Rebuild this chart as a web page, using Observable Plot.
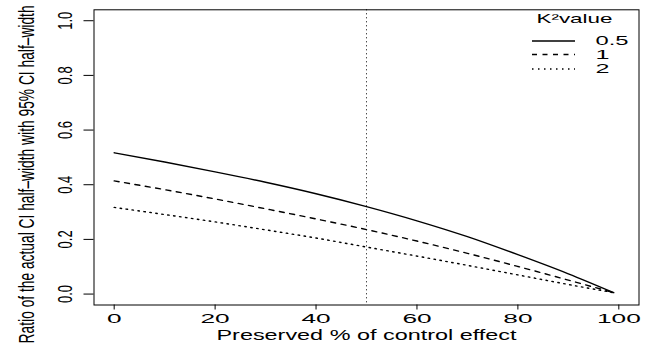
<!DOCTYPE html>
<html><head><meta charset="utf-8">
<script src="https://cdn.jsdelivr.net/npm/d3@7"></script>
<script src="https://cdn.jsdelivr.net/npm/@observablehq/plot@0.6"></script>
<style>body{margin:0;background:#fff} svg{display:block}</style>
</head><body><div id="chart"></div>
<script>
// ---- data ----
const preserved = [0, 10, 20, 30, 40, 50, 60, 70, 80, 90, 99];
const ratioK05 = [0.517, 0.483, 0.447, 0.409, 0.367, 0.320, 0.268, 0.210, 0.144, 0.074, 0.005];
const ratioK1  = [0.414, 0.382, 0.348, 0.312, 0.275, 0.236, 0.194, 0.149, 0.101, 0.051, 0.005];
const ratioK2  = [0.317, 0.291, 0.264, 0.235, 0.205, 0.172, 0.139, 0.105, 0.070, 0.035, 0.005];
const k2Labels = ["0.5", "1", "2"];
const legendTitle = "K\u00B2value";
const refLine = [50];
const xTickVals = [0, 20, 40, 60, 80, 100];
const xTickLabels = ["0", "20", "40", "60", "80", "100"];
const yTickVals = [0, 0.2, 0.4, 0.6, 0.8, 1.0];
const yTickLabels = ["0.0", "0.2", "0.4", "0.6", "0.8", "1.0"];
const xLabel = "Preserved % of control effect";
const yLabel = "Ratio of the actual CI half\u2013width with 95% CI half\u2013width";

// ---- layout ----
const W = 648, H = 350;
const mL = 93.5, mR = 9.5, mT = 9.3, mB = 45.5;
const xDom = [-4, 104], yDom = [-0.04, 1.04];
const xInv = px => xDom[0] + (px - mL) / (W - mL - mR) * (xDom[1] - xDom[0]);
const yInv = py => yDom[0] + (H - mB - py) / (H - mB - mT) * (yDom[1] - yDom[0]);

const series = [
  {vals: ratioK05, dash: null},
  {vals: ratioK1, dash: "5,5.5"},
  {vals: ratioK2, dash: "1.5,4.5"}
];
const rowsPx = [40.5, 54, 68.5];
const legendRows = k2Labels.map((lab, i) => ({
  lab, dash: series[i].dash,
  y: yInv(rowsPx[i]), x1: xInv(532), x2: xInv(575), xt: xInv(595)
}));

const font = "'Liberation Sans', Arial, Helvetica, sans-serif";

const marks = [
  Plot.frame({stroke: "black", strokeWidth: 1}),
  Plot.axisX(xTickVals, {anchor: "bottom", tickSize: 5, tickPadding: 4.5, fontSize: 12.5,
    tickFormat: (d) => xTickLabels[xTickVals.indexOf(d)], label: null}),
  Plot.axisY(yTickVals, {anchor: "left", tickSize: 10, tickFormat: () => "", label: null}),
  Plot.text(yTickVals, {y: d => d, text: (d, i) => yTickLabels[i], frameAnchor: "left",
    dx: -28.5, rotate: -90, fontSize: 20, textAnchor: "middle"}),
  Plot.text([yLabel], {text: d => d, frameAnchor: "left", dx: -66.5, dy: 17, rotate: -90,
    fontSize: 14, textAnchor: "middle"}),
  Plot.text([xLabel], {text: d => d, frameAnchor: "bottom", dy: 35, fontSize: 15,
    textAnchor: "middle"}),
  Plot.ruleX(refLine, {stroke: "black", strokeWidth: 1, strokeDasharray: "1,3"})
];
series.forEach(s => {
  marks.push(Plot.line(preserved.map((p, i) => ({p, r: s.vals[i]})), {
    x: "p", y: "r", stroke: "black", strokeWidth: 1.4, curve: "monotone-x",
    strokeDasharray: s.dash || undefined
  }));
});
legendRows.forEach((r) => {
  marks.push(Plot.ruleY([r], {y: "y", x1: "x1", x2: "x2", stroke: "black", strokeWidth: 1.4,
    strokeDasharray: r.dash || undefined}));
});
marks.push(Plot.text(legendRows, {x: "xt", y: "y", text: "lab", textAnchor: "start",
  fontSize: 13}));
marks.push(Plot.text([legendTitle], {text: d => d, x: () => xInv(536), y: () => yInv(18.7),
  textAnchor: "start", fontSize: 13}));

const svg = Plot.plot({
  width: W, height: H,
  marginLeft: mL, marginRight: mR, marginTop: mT, marginBottom: mB,
  x: {domain: xDom}, y: {domain: yDom},
  style: {fontFamily: font, background: "white", color: "black", overflow: "visible"},
  marks
});

// stretch texts to the widths seen in the reference
const digitLen = (s, d) => [...s].reduce((a, c) => a + (c === "." ? 5 : d), 0);
const lengths = new Map();
xTickLabels.forEach(s => lengths.set(s, digitLen(s, 14.6)));
yTickLabels.forEach(s => lengths.set(s, 18));
k2Labels.forEach(s => lengths.set(s, digitLen(s, 14)));
lengths.set(yLabel, 338);
lengths.set(xLabel, 300);
lengths.set(legendTitle, 76);
svg.querySelectorAll("text").forEach(t => {
  const s = t.textContent;
  if (lengths.has(s)) {
    t.setAttribute("textLength", lengths.get(s));
    t.setAttribute("lengthAdjust", "spacingAndGlyphs");
  }
  if (s === yLabel) {
    // the reference is stretched horizontally: thicken the rotated glyphs
    const tr = t.getAttribute("transform") || "";
    const m = /translate\(\s*([-\d.e]+)[ ,]+([-\d.e]+)\s*\)/.exec(tr);
    if (m) {
      const X = +m[1];
      t.setAttribute("transform", `translate(${X},0) scale(1.55,1) translate(${-X},0) ${tr}`);
    }
  }
});

document.getElementById("chart").appendChild(svg);
</script></body></html>
